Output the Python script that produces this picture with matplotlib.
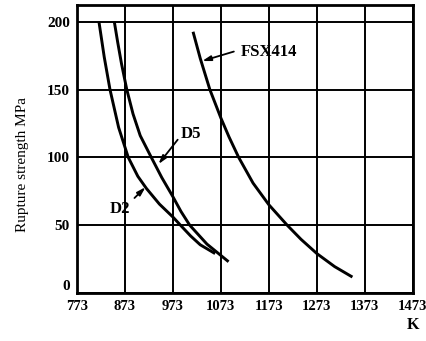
import numpy as np
import matplotlib.pyplot as plt

plt.rcParams['font.family'] = ['Liberation Serif', 'DejaVu Serif']

# temperature (K) vs rupture strength (MPa)
d2_t = [819, 830, 842, 860, 880, 900, 918, 945, 973, 990, 1010, 1030, 1061]
d2_s = [200, 174, 150, 122, 100, 86, 77, 65.5, 56, 49.5, 42, 35.5, 29]

d5_t = [851, 858, 866, 877, 890, 905, 928, 950, 973, 990, 1008, 1044, 1089]
d5_s = [200, 185, 169, 150, 132, 116, 100, 85, 71, 60, 50, 36, 23]

fsx_t = [1015, 1030, 1050, 1073, 1090, 1110, 1140, 1173, 1211, 1240, 1273, 1310, 1347]
fsx_s = [192.6, 173, 150, 129, 115, 100, 81, 65, 50, 39.5, 29, 19.4, 11.7]

xticks = [773, 873, 973, 1073, 1173, 1273, 1373, 1473]
yticks = [0, 50, 100, 150, 200]

fig = plt.figure(figsize=(4.27, 3.41), dpi=100)
ax = fig.add_axes([0.180, 0.141, 0.787, 0.845])

for t, s in [(d2_t, d2_s), (d5_t, d5_s), (fsx_t, fsx_s)]:
    ax.plot(t, s, color='black', lw=2.1, solid_capstyle='butt', solid_joinstyle='round')

ax.set_xlim(773, 1473)
ax.set_ylim(0, 212.5)
ax.set_xticks(xticks)
ax.set_yticks(yticks)
ax.set_xticklabels([str(v) for v in xticks], fontsize=10.5, fontweight='bold')
ax.set_yticklabels([str(v) for v in yticks], fontsize=11, fontweight='bold')
ax.get_yticklabels()[0].set_va('bottom')
ax.tick_params(length=0, pad=5)
ax.grid(True, color='black', lw=1.4)
ax.set_axisbelow(True)
for sp in ax.spines.values():
    sp.set_linewidth(2.0)

ax.set_ylabel('Rupture strength MPa', fontsize=11)
ax.yaxis.set_label_coords(-0.143, 0.444)
ax.text(1.0, -0.111, 'K', transform=ax.transAxes, ha='center', va='center',
        fontsize=11.5, fontweight='bold')

arrow = dict(arrowstyle='-|>,head_length=0.5,head_width=0.15', color='black', lw=1.3,
             shrinkA=0, shrinkB=0)
ax.text(1115, 178, 'FSX414', fontsize=12, fontweight='bold', va='center', ha='left')
ax.annotate('', xy=(1034, 171), xytext=(1100, 178), arrowprops=arrow)
ax.text(1011, 117, 'D5', fontsize=12, fontweight='bold', va='center', ha='center')
ax.annotate('', xy=(943, 95), xytext=(983, 113), arrowprops=arrow)
ax.text(862, 62, 'D2', fontsize=12, fontweight='bold', va='center', ha='center')
ax.annotate('', xy=(916, 78), xytext=(893, 70), arrowprops=arrow)

fig.savefig('out.png', dpi=100)
